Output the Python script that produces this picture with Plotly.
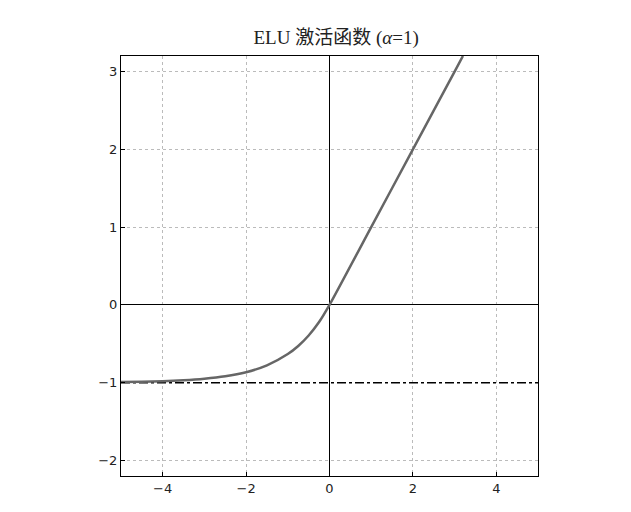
import plotly.graph_objects as go

# ELU curve points
x_vals = [-5, -4.5, -4, -3.5, -3, -2.5, -2, -1.5, -1, -0.75, -0.5, -0.25, 0, 1, 2, 3, 3.2]
y_vals = [-0.993, -0.989, -0.982, -0.97, -0.95, -0.918, -0.865, -0.777, -0.632, -0.528,
          -0.393, -0.221, 0, 1, 2, 3, 3.2]
x_ticks = [-4, -2, 0, 2, 4]
x_labels = ["−4", "−2", "0", "2", "4"]
y_ticks = [-2, -1, 0, 1, 2, 3]
y_labels = ["−2", "−1", "0", "1", "2", "3"]
asymptote = -1

fig = go.Figure()
fig.add_trace(go.Scatter(x=[-5, 5], y=[asymptote, asymptote], mode="lines",
                         line=dict(color="black", width=1.5, dash="dashdot"), hoverinfo="skip"))
fig.add_trace(go.Scatter(x=x_vals, y=y_vals, mode="lines",
                         line=dict(color="#666666", width=2.5, shape="spline", smoothing=0.6)))

axis_common = dict(showgrid=True, gridcolor="#bbbbbb", griddash="dot", gridwidth=1,
                   zeroline=True, zerolinecolor="black", zerolinewidth=1,
                   showline=True, linecolor="black", linewidth=1, mirror=True,
                   ticks="inside", tickcolor="black", ticklen=4,
                   tickfont=dict(family="DejaVu Sans", size=13, color="#222"))

fig.update_layout(
    width=631, height=512,
    paper_bgcolor="white", plot_bgcolor="white",
    showlegend=False,
    margin=dict(l=113, r=101, t=48, b=44),
    title=dict(text="ELU 激活函数 (<i>α</i>=1)", x=0.52, y=0.955, xanchor="center",
               font=dict(family="Liberation Serif, Noto Sans CJK SC", size=19, color="#222")),
    xaxis=dict(range=[-5, 5], tickvals=x_ticks, ticktext=x_labels, **axis_common),
    yaxis=dict(range=[-2.2, 3.2], tickvals=y_ticks, ticktext=y_labels, **axis_common),
)

fig.write_html("out.html")
